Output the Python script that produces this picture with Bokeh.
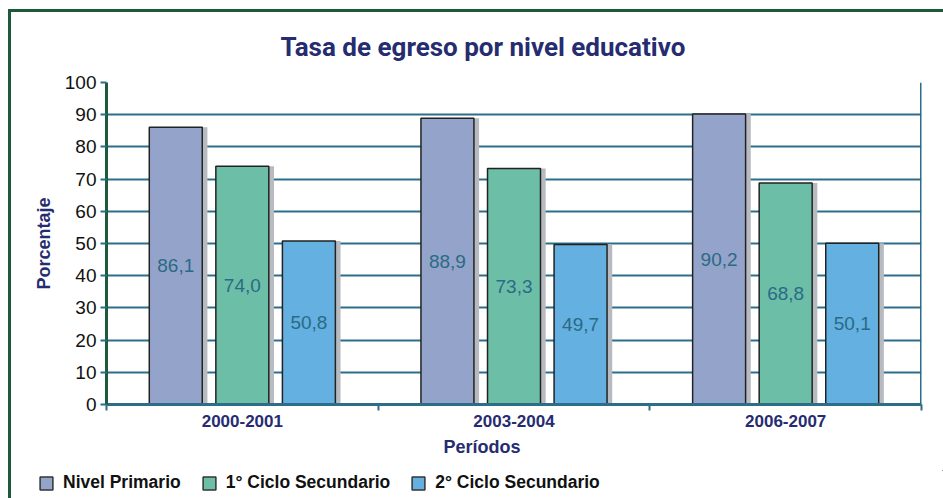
from bokeh.plotting import figure
from bokeh.models import (ColumnDataSource, Range1d, FixedTicker, Legend, LegendItem, Span, Title)
from bokeh.core.properties import value
from bokeh.embed import file_html
from bokeh.resources import INLINE

# ---- data ----
periods = ["2000-2001", "2003-2004", "2006-2007"]
series_names = ["Nivel Primario", "1° Ciclo Secundario", "2° Ciclo Secundario"]
primario = [86.1, 88.9, 90.2]
ciclo1 = [74.0, 73.3, 68.8]
ciclo2 = [50.8, 49.7, 50.1]
y_ticks = [0, 10, 20, 30, 40, 50, 60, 70, 80, 90, 100]

series_values = [primario, ciclo1, ciclo2]
colors = ["#94a3c9", "#6cbfa6", "#63b0e1"]
offsets = [-0.245, 0.0, 0.245]
bar_w = 0.195
shadow_dx = 0.019

FONT = "Liberation Sans"
NAVY = "#262c70"
TEAL = "#2c6e89"
GREEN = "#1d5a3b"

p = figure(width=943, height=470, x_range=Range1d(0, 3), y_range=Range1d(0, 100),
           output_backend="svg", toolbar_location=None,
           min_border_left=106, min_border_right=22, min_border_top=82, min_border_bottom=66)
p.border_fill_color = None
p.background_fill_color = "white"
p.outline_line_color = None
p.styles = {"box-shadow": "inset 8px 9px 0 0 white, inset 11px 12px 0 0 " + GREEN}

# title
p.title.text = "Tasa de egreso por nivel educativo"
p.title.align = "left"
p.title.offset = 174
p.title.text_font = "Roboto"
p.title.text_font_style = "bold"
p.title.text_font_size = "26px"
p.title.text_color = NAVY
p.title.standoff = 41

# grid
p.xgrid.grid_line_color = None
p.ygrid.ticker = FixedTicker(ticks=y_ticks)
p.ygrid.grid_line_color = TEAL
p.ygrid.grid_line_width = 2

# y axis
p.yaxis.ticker = FixedTicker(ticks=y_ticks)
p.yaxis.axis_line_color = GREEN
p.yaxis.axis_line_width = 3
p.yaxis.major_tick_line_color = TEAL
p.yaxis.major_tick_line_width = 2
p.yaxis.major_tick_out = 6
p.yaxis.major_tick_in = 0
p.yaxis.minor_tick_line_color = None
p.yaxis.major_label_text_font = FONT
p.yaxis.major_label_text_font_size = "19px"
p.yaxis.major_label_text_color = "#111111"
p.yaxis.major_label_standoff = 4
p.yaxis.axis_label = "Porcentaje"
p.yaxis.axis_label_text_font = FONT
p.yaxis.axis_label_text_font_style = "bold"
p.yaxis.axis_label_text_font_size = "18px"
p.yaxis.axis_label_text_color = NAVY
p.yaxis.axis_label_standoff = 8

# x axis
centers = [i + 0.5 for i in range(len(periods))]
p.xaxis.ticker = FixedTicker(ticks=centers, minor_ticks=[0, 1, 2, 3])
p.xaxis.major_label_overrides = {c: name for c, name in zip(centers, periods)}
p.xaxis.major_tick_line_color = None
p.xaxis.minor_tick_line_color = TEAL
p.xaxis.minor_tick_line_width = 2
p.xaxis.minor_tick_out = 6
p.xaxis.minor_tick_in = 0
p.xaxis.axis_line_color = TEAL
p.xaxis.axis_line_width = 3
p.xaxis.major_label_text_font = FONT
p.xaxis.major_label_text_font_style = "bold"
p.xaxis.major_label_text_font_size = "17px"
p.xaxis.major_label_text_color = NAVY
p.xaxis.major_label_standoff = 4

# right border of the frame
p.add_layout(Span(location=3, dimension="height", line_color=TEAL, line_width=3))

# legend-only strip below the chart (its data lies far outside both ranges, only the swatches show)
lg = figure(width=943, height=28, x_range=Range1d(-1000, -997), y_range=Range1d(-1000, -999),
            output_backend="svg", toolbar_location=None,
            x_axis_location=None, y_axis_location=None,
            min_border_left=0, min_border_right=0, min_border_top=0, min_border_bottom=0)
lg.title.visible = False
lg.grid.visible = False
lg.outline_line_color = None
lg.background_fill_color = None
lg.border_fill_color = None
lg.styles = {"box-shadow": "inset 8px 0 0 0 white, inset 11px 0 0 0 " + GREEN}

legend_renderers = []
for vals, color, off in zip(series_values, colors, offsets):
    xs = [c + off for c in centers]
    src = ColumnDataSource(dict(
        x=xs,
        xs=[x + shadow_dx for x in xs],
        top=vals,
        mid=[v / 2 for v in vals],
        label=[("%.1f" % v).replace(".", ",") for v in vals],
    ))
    p.vbar(x="xs", top="top", width=bar_w, source=src, fill_color="#b7bac1", line_color=None)
    p.vbar(x="x", top="top", width=bar_w, source=src, fill_color=color,
           line_color="#222222", line_width=1.5)
    p.text(x="x", y="mid", text="label", source=src, text_align="center", text_baseline="middle",
           text_font=value(FONT), text_font_size="19px", text_color="#2b6a86")
    lr = lg.vbar(x="x", top="top", width=0, source=src, fill_color=color,
                 line_color="#333333", line_width=1.5)
    legend_renderers.append(lr)

# x axis label as a below title
p.add_layout(Title(text="Períodos", align="left", offset=337, text_font=FONT,
                   text_font_style="bold", text_font_size="18px", text_color=NAVY,
                   standoff=10), "below")

legend = Legend(items=[LegendItem(label=n, renderers=[r]) for n, r in zip(series_names, legend_renderers)],
                orientation="horizontal", location=(38, 5),
                glyph_width=16, glyph_height=16, label_height=16,
                label_text_font=FONT, label_text_font_style="bold", label_text_font_size="17.5px",
                label_text_color="#111111", spacing=20, label_standoff=9,
                padding=0, margin=0, border_line_color=None, background_fill_alpha=0)
lg.add_layout(legend, "center")

open("out.html", "w").write(file_html([p, lg], INLINE))
